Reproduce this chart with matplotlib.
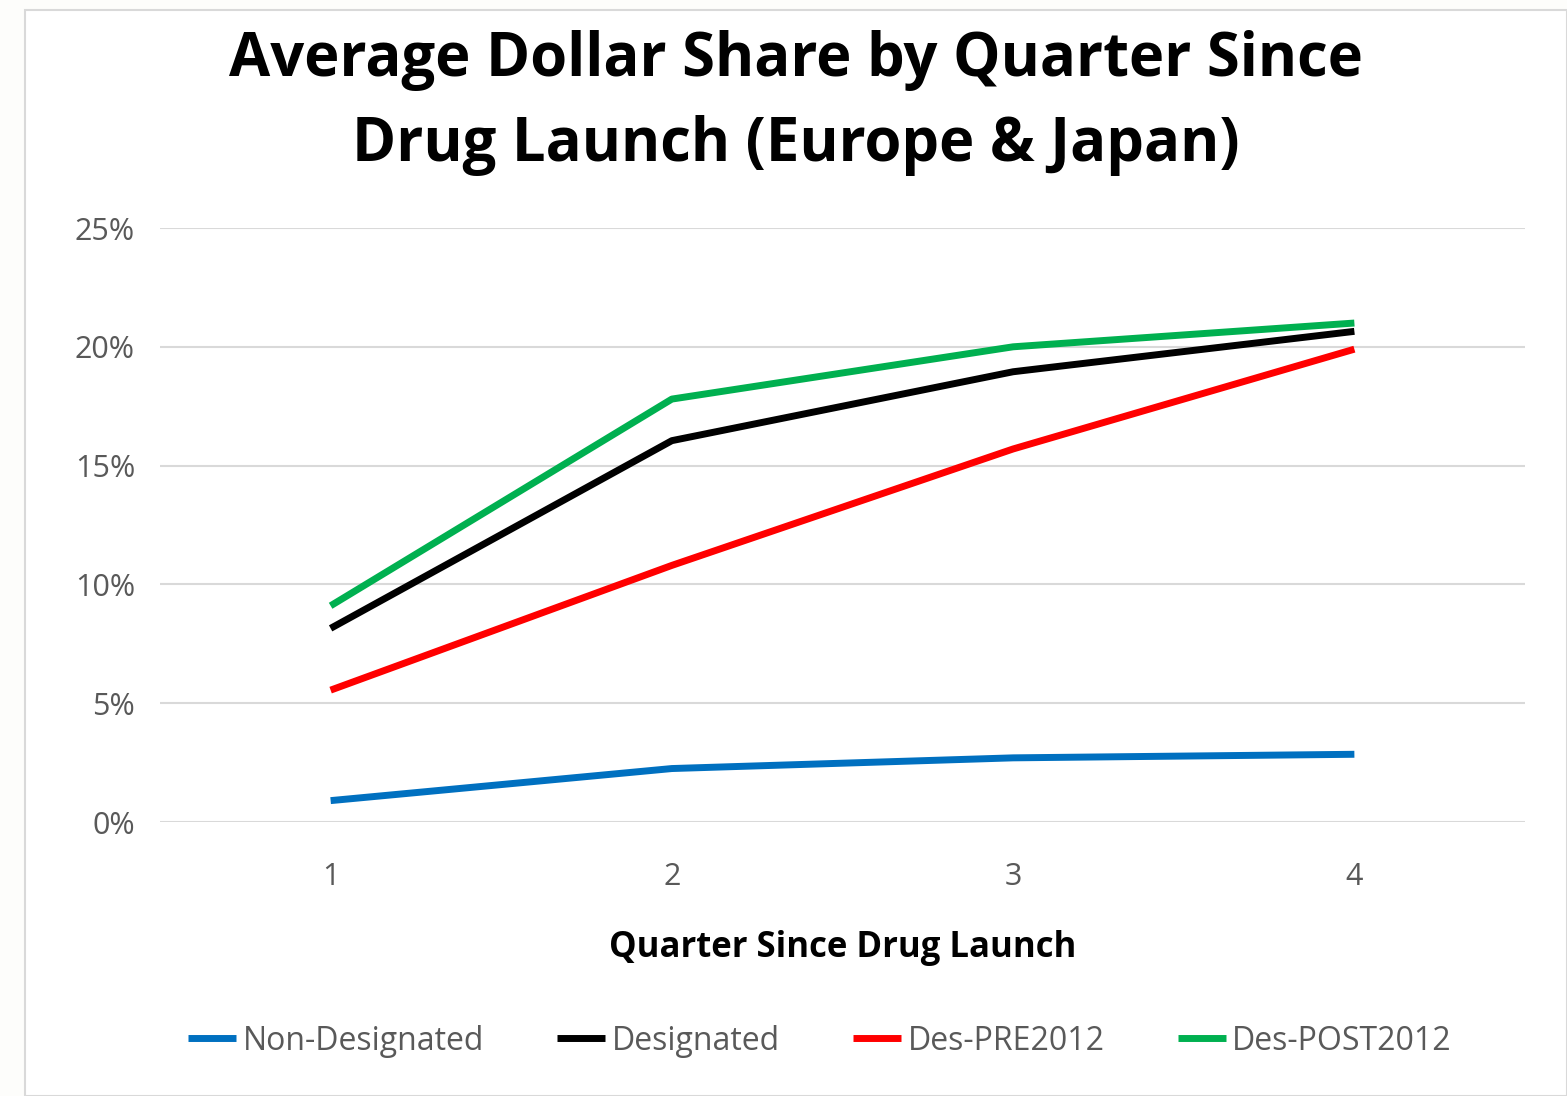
import matplotlib
matplotlib.use("Agg")
import matplotlib.pyplot as plt
from matplotlib.patches import Rectangle
from matplotlib.ticker import FuncFormatter

quarters = [1, 2, 3, 4]
non_designated = [0.9, 2.25, 2.7, 2.85]
designated = [8.15, 16.05, 18.95, 20.65]
des_pre2012 = [5.55, 10.8, 15.7, 19.9]
des_post2012 = [9.1, 17.8, 20.0, 21.0]
series_names = ["Non-Designated", "Designated", "Des-PRE2012", "Des-POST2012"]
series_colors = ["#0070C0", "#000000", "#FF0000", "#00B050"]
yticks = [0, 5, 10, 15, 20, 25]

plt.rcParams['font.family'] = ['Open Sans', 'DejaVu Sans']

fig = plt.figure(figsize=(15.67, 10.96), dpi=100)
fig.patch.set_facecolor("#FDFDFB")
fig.add_artist(Rectangle((25/1567, 0), 1 - 25/1567, 1 - 10/1096, transform=fig.transFigure,
                         facecolor="white", edgecolor="#D9D9D9", linewidth=1.5, zorder=-1))

ax = fig.add_axes([160/1567, 1 - 822/1096, (1525-160)/1567, (822-228)/1096])
ax.set_facecolor("white")

for vals, name, col in zip([non_designated, designated, des_pre2012, des_post2012], series_names, series_colors):
    ax.plot(quarters, vals, color=col, linewidth=5, label=name, solid_capstyle="butt")

ax.set_xlim(0.5, 4.5)
ax.set_ylim(0, 25)
ax.set_yticks(yticks)
ax.yaxis.set_major_formatter(FuncFormatter(lambda v, p: f"{int(v)}%"))
ax.set_xticks(quarters)
ax.grid(axis="y", color="#D9D9D9", linewidth=1.5)
ax.set_axisbelow(True)
for s in ax.spines.values():
    s.set_visible(False)
ax.tick_params(axis="both", length=0, labelsize=22, labelcolor="#595959")
ax.tick_params(axis="y", pad=18)
ax.tick_params(axis="x", pad=29)

ax.set_xlabel("Quarter Since Drug Launch", fontsize=25, fontweight="bold", labelpad=27)

fig.text(0.508, 1 - 103/1096, "Average Dollar Share by Quarter Since\nDrug Launch (Europe & Japan)",
         ha="center", va="center", fontsize=43, fontweight="bold", linespacing=1.52)

leg = ax.legend(loc="center", bbox_to_anchor=((820-160)/1365, -(1041-822)/(822-228)), ncol=4, frameon=False,
                fontsize=23, handlelength=1.5, handletextpad=0.2, columnspacing=2.3)
for t in leg.get_texts():
    t.set_color("#595959")

fig.savefig("out.png", dpi=100, facecolor=fig.get_facecolor())
